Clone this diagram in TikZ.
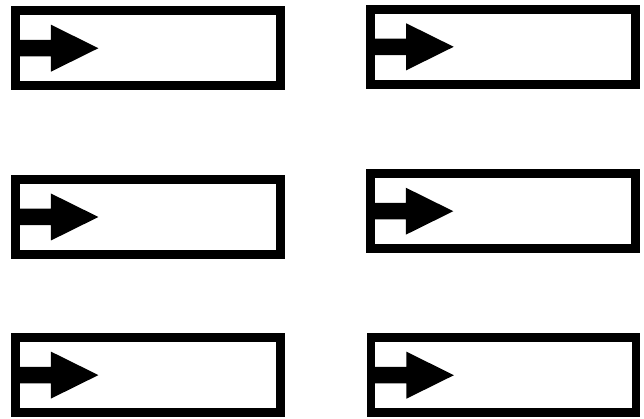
\documentclass[tikz,border=0pt]{standalone}
\tikzset{
  framebox/.style={draw=black, line width=8.5pt, fill=white, rectangle, inner sep=0pt, outer sep=0pt, minimum width=265pt, minimum height=75pt},
  arrowfill/.style={fill=black}
}
\newcommand{\arrowin}[1]{%
  \fill[arrowfill] (#1.west) ++(0,-8.25) -- ++(35.5,0) -- ++(0,-15.25) -- ++(47.5,23.5) -- ++(-47.5,23.5) -- ++(0,-15.25) -- ++(-35.5,0) -- cycle;}
\begin{document}
\begin{tikzpicture}[x=1pt,y=-1pt]
\useasboundingbox (0,0) rectangle (644,419);
\node[framebox] (b1) at (147.9,48.2) {};
\node[framebox] (b2) at (503.2,46.8) {};
\node[framebox] (b3) at (147.9,217.0) {};
\node[framebox] (b4) at (502.8,211.2) {};
\node[framebox] (b5) at (147.9,375.1) {};
\node[framebox] (b6) at (503.4,375.2) {};
\arrowin{b1}
\arrowin{b2}
\arrowin{b3}
\arrowin{b4}
\arrowin{b5}
\arrowin{b6}
\end{tikzpicture}
\end{document}
